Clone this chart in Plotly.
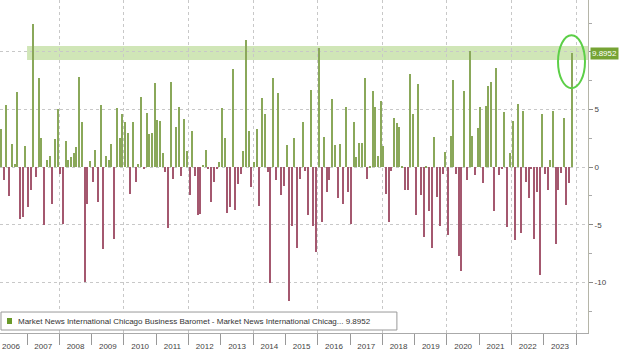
import pandas as pd
import plotly.graph_objects as go

# Monthly surprise values, Feb 2006 .. Nov 2023
values = [
    -3.5, 3.3, -1.1, 5.4, -2.5, 2.0, 0.3, 6.5, -4.5, -4.3, 1.8, -3.5, -2.0, 12.4, -0.9, 7.7,
    2.5, -5.0, 0.6, 1.0, -3.2, 2.4, 5.0, -0.6, -4.9, 2.3, 0.6, 0.9, 1.2, 1.7, 7.8, 3.9,
    -10.0, -3.2, 0.5, -1.3, 1.5, -3.0,
    5.4, -7.1, 1.0, 0.6, 2.0, -6.2, 5.1, 2.5, 4.6, 3.9, 3.0, -2.3, 3.9, -1.3, 0.3, 6.1,
    -0.1, 4.7, 2.9, 3.0, 7.3, 4.1, 4.0, 1.2, -0.4, -5.3, 7.4, -1.0, 3.5, 5.2, -0.8, 4.2,
    1.4, -2.4, 3.1,
    -0.8, -4.2, -4.1, 0.2, 1.5, -0.2, -3.0, -1.3, -0.1, 0.4, 5.1, 2.5, -4.0, -3.5, 8.5,
    -3.7, -1.5, -0.6, 1.4, 11.0, 3.1, -1.7, 0.4, 3.3, -3.4, 6.0, 4.6, -0.4, -10.1, 7.7,
    -1.1, 6.4, -2.4, -1.6, 1.9,
    -11.6, -5.1, 2.5, -7.0, -1.0, 3.9, -0.3, -4.2, 6.7, -5.1, -7.4, 10.3, -4.8, 2.6, -2.2,
    -1.1, 5.9, 1.9, -2.7, 2.0, -3.2, 5.2, -2.2, -4.9, 3.9, 0.9, 2.1, 2.1, 7.7, -1.0, 0.1,
    6.6, 5.2, 1.0, 5.7, 1.8,
    -2.3, -4.8, -0.3, 4.3, 3.8, 3.5, 0.1, -2.0, -2.0, 8.1, 4.6, -4.2, 7.2, -2.4, -6.1, 0.1,
    -3.8, -7.0, 2.6, -2.6, -5.1, -0.6, 1.3, -5.9, 2.7, 7.6, -0.6, -7.7, -9.0, 6.6, -1.1,
    10.1, 2.7, -0.7, 3.4,
    5.2, -1.4, 5.3, 7.0, 7.4, -3.8, 8.6, -0.7, -0.1, 4.8, -5.2, 1.2, 4.0, -6.3, 5.5, -5.7,
    4.9, -1.3, -2.7, -0.1, -6.2, -2.2, -9.4, 4.6, -0.6, -2.0, 0.6, 4.9, -6.7, -2.0, -0.5,
    4.3, -3.3, -1.4, 9.8952,
]
last_month = "2023-11-15"
dates = pd.date_range(end=last_month, periods=len(values), freq="MS") + pd.Timedelta(days=14)

pos_color = "#8aa85a"
neg_color = "#a4586f"
colors = [pos_color if v >= 0 else neg_color for v in values]

legend_text = ("Market News International Chicago Business Baromet - "
               "Market News International Chicag... 9.8952")
last_label = "9.8952"
y_tickvals = [-10, -5, 0, 5, 10]
y_ticktext = ["-10", "-5", "0", "5", ""]
x_range = ["2006-03-01", "2024-05-14"]
y_range = [-14.4, 14.5]
band = (9.3, 10.5)
band_start = "2007-01-01"
FONT = "Liberation Sans, Arial, sans-serif"

fig = go.Figure()
fig.add_trace(go.Bar(x=dates, y=values, marker=dict(color=colors, line=dict(width=0)),
                     width=16 * 86400000, showlegend=False, hoverinfo="skip"))
# dummy trace for 2-year gridline axis
fig.add_trace(go.Scatter(x=[dates[0]], y=[0], xaxis="x2", mode="markers",
                         marker=dict(opacity=0), showlegend=False, hoverinfo="skip"))

fig.update_layout(
    width=620, height=354,
    margin=dict(l=0, r=32, t=0, b=21),
    paper_bgcolor="white", plot_bgcolor="white",
    font=dict(family=FONT, size=8, color="#444"),
    bargap=0,
    xaxis=dict(type="date", range=x_range, showgrid=False, zeroline=False,
               tick0="2006-01-01", dtick="M12", tickformat="%Y", ticklabelmode="period",
               ticks="outside", ticklen=11, tickcolor="#999", tickwidth=1,
               ticklabelstandoff=-6,
               showline=True, linecolor="#aaa", linewidth=1,
               tickfont=dict(size=8, color="#444"), automargin=False),
    xaxis2=dict(type="date", range=x_range, overlaying="x", showgrid=True,
                gridcolor="#c8c8c8", griddash="dot", gridwidth=1,
                tick0="2008-01-01", dtick="M24", showticklabels=False, ticks="",
                showline=False, zeroline=False),
    yaxis=dict(range=y_range, side="right", zeroline=False,
               tickvals=y_tickvals, ticktext=y_ticktext,
               showgrid=True, gridcolor="#c8c8c8", griddash="dot", gridwidth=1,
               ticks="outside", ticklen=4, tickcolor="#888",
               minor=dict(dtick=2.5, ticks="outside", ticklen=3, tickcolor="#aaa", showgrid=False),
               showline=True, linecolor="#b5b5a8", linewidth=1,
               tickfont=dict(size=8, color="#444"), automargin=False),
    shapes=[
        dict(type="rect", xref="x", yref="y", x0=band_start, x1=x_range[1],
             y0=band[0], y1=band[1], fillcolor="rgba(150,200,95,0.45)",
             line=dict(width=0), layer="below"),
        dict(type="circle", xref="x", yref="y", x0="2023-06-10", x1="2024-04-10",
             y0=6.85, y1=11.44, line=dict(color="#5ccf47", width=2)),
        dict(type="rect", xref="paper", yref="paper", x0=0.0017, x1=0.675,
             y0=0.009, y1=0.063, fillcolor="white", line=dict(color="#999", width=1),
             layer="above"),
        dict(type="rect", xref="paper", yref="paper", x0=7 / 588, x1=12 / 588,
             y0=1 - 324 / 333, y1=1 - 318 / 333, fillcolor="#6a9a2a",
             line=dict(width=0), layer="above"),
    ],
    annotations=[
        dict(text=legend_text, xref="paper", yref="paper", x=16 / 588, y=1 - 321 / 333,
             xanchor="left", yanchor="middle", showarrow=False,
             font=dict(family=FONT, size=8, color="#333")),
        dict(text=last_label, xref="paper", yref="y", x=1.004, y=values[-1],
             xanchor="left", yanchor="middle", showarrow=False, bgcolor="#76a334",
             borderpad=1, font=dict(family=FONT, size=8, color="white")),
    ],
)

fig.write_html("out.html")
